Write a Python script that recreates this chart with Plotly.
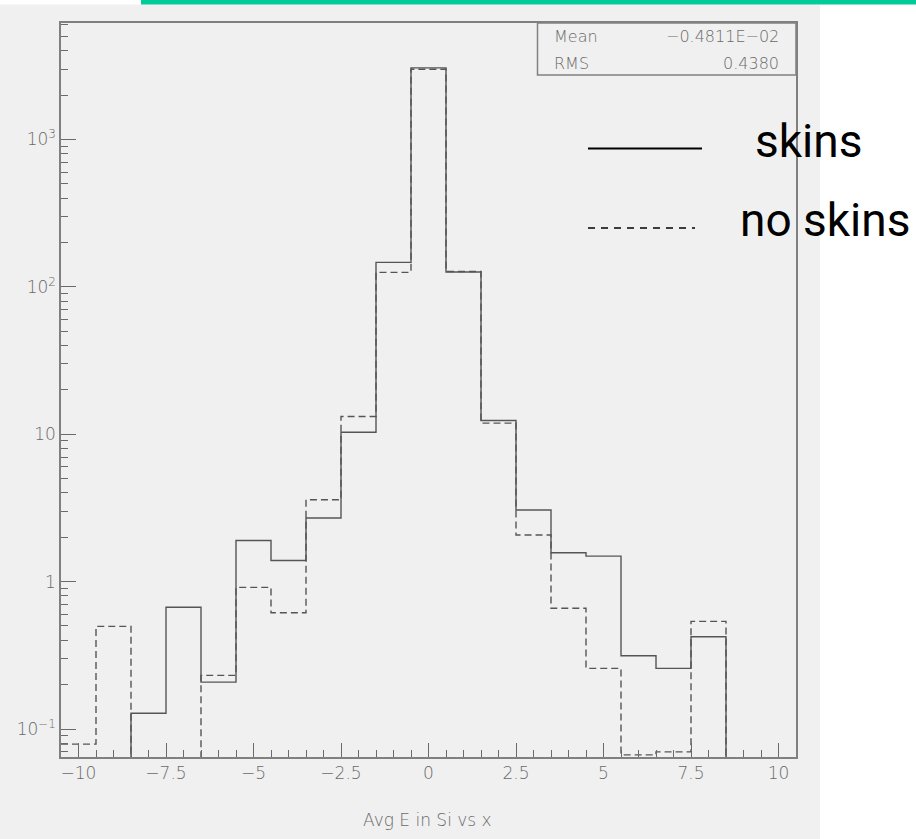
import numpy as np
import plotly.graph_objects as go

# Histogram contents, one bin per integer x (bin width 1)
bin_centers = list(range(-10, 11))
skins = [0, 0, 0.128, 0.67, 0.208, 1.90, 1.39, 2.70, 10.3, 146.6, 3060,
         126, 12.4, 3.06, 1.57, 1.49, 0.314, 0.258, 0.423, 0, 0]
no_skins = [0.079, 0.497, 0, 0, 0.231, 0.914, 0.615, 3.59, 13.2, 125.4, 2995,
            127, 11.9, 2.07, 0.659, 0.258, 0.0667, 0.070, 0.537, 0, 0]

x_tick_vals = [-10, -7.5, -5, -2.5, 0, 2.5, 5, 7.5, 10]
x_tick_text = ["\u221210", "\u22127.5", "\u22125", "\u22122.5", "0", "2.5", "5", "7.5", "10"]
y_tick_vals = [0.1, 1, 10, 100, 1000]
y_tick_text = ["10<sup>\u22121</sup>", "1", "10", "10<sup>2</sup>", "10<sup>3</sup>"]

stat_names = ["Mean", "RMS"]
stat_values = ["\u22120.4811E\u221202", "0.4380"]
legend_labels = ["skins", "no skins"]
x_title = "Avg E in Si vs x"

X_RANGE = [-10.5, 10.5]
Y_RANGE_LOG = [-1.19, 3.79]
LOG_FLOOR = 10 ** (Y_RANGE_LOG[0] - 1)  # empty bins drop below the frame

# frame position in pixels
W, H = 916, 839
PL, PR, PT, PB = 61, 796, 23, 757


def fx(px):
    return (px - PL) / (PR - PL)


def fy(py):
    return (PB - py) / (PB - PT)


def step_outline(values):
    xs = [c - 0.5 for c in bin_centers] + [bin_centers[-1] + 0.5]
    ys = [v if v > 0 else LOG_FLOOR for v in values]
    ys = ys + [ys[-1]]
    return xs, ys


LINE_COL = "#555555"
AXIS_COL = "#808080"
TEXT_COL = "#6a6a6a"
BG = "#f0f0f0"
THIN = "DejaVu Sans"

fig = go.Figure()
for vals, dash in [(skins, "solid"), (no_skins, "7px,4px")]:
    xs, ys = step_outline(vals)
    fig.add_trace(go.Scatter(
        x=xs, y=ys, mode="lines", line_shape="hv",
        line=dict(color=LINE_COL, width=1.4, dash=dash),
        hoverinfo="skip", showlegend=False,
    ))

y_minor = [m * 10 ** d for d in range(-2, 4) for m in range(2, 10)]
y_minor = [v for v in y_minor if Y_RANGE_LOG[0] <= np.log10(v) <= Y_RANGE_LOG[1]]
x_minor = [v for v in np.arange(-10.5, 10.51, 0.5) if v not in x_tick_vals]

tick_font = dict(family=THIN, size=17, color=TEXT_COL, weight=200)

fig.update_xaxes(
    range=X_RANGE, tickmode="array", tickvals=x_tick_vals, ticktext=x_tick_text,
    ticks="inside", ticklen=14, tickwidth=1, tickcolor=TEXT_COL,
    minor=dict(tickmode="array", tickvals=x_minor, ticks="inside", ticklen=7,
               tickwidth=1, tickcolor=TEXT_COL, showgrid=False),
    showline=True, linecolor=AXIS_COL, linewidth=1.5, mirror=True,
    showgrid=False, zeroline=False, tickfont=tick_font,
)
fig.update_yaxes(
    type="log", range=Y_RANGE_LOG, tickmode="array", tickvals=y_tick_vals,
    ticktext=y_tick_text,
    ticks="inside", ticklen=15, tickwidth=1, tickcolor=TEXT_COL,
    minor=dict(tickmode="array", tickvals=y_minor, ticks="inside", ticklen=7,
               tickwidth=1, tickcolor=TEXT_COL, showgrid=False),
    showline=True, linecolor=AXIS_COL, linewidth=1.5, mirror=True,
    showgrid=False, zeroline=False, tickfont=tick_font,
)

shapes = [
    # grey canvas and top accent bar
    dict(type="rect", xref="paper", yref="paper", x0=fx(0), x1=fx(820),
         y0=fy(H), y1=fy(4.5), fillcolor=BG, line=dict(width=0), layer="below"),
    dict(type="rect", xref="paper", yref="paper", x0=fx(141), x1=fx(W),
         y0=fy(4.5), y1=fy(0), fillcolor="#00cc99", line=dict(width=0), layer="below"),
    # statistics box
    dict(type="rect", xref="paper", yref="paper", x0=fx(537.5), x1=fx(796),
         y0=fy(75), y1=fy(23), line=dict(color=AXIS_COL, width=1.5)),
    # legend samples
    dict(type="line", xref="paper", yref="paper", x0=fx(588), x1=fx(702),
         y0=fy(148.5), y1=fy(148.5), line=dict(color="black", width=2)),
    dict(type="line", xref="paper", yref="paper", x0=fx(588), x1=fx(695),
         y0=fy(228), y1=fy(228), line=dict(color="black", width=1.5, dash="7px,6px")),
]

annotations = []
stat_font = dict(family=THIN, size=16, color=TEXT_COL, weight=200)
for i, (name, val) in enumerate(zip(stat_names, stat_values)):
    yc = 37 + 26 * i
    annotations.append(dict(x=fx(552), y=fy(yc), xref="paper", yref="paper",
                            text=name, showarrow=False, xanchor="left",
                            yanchor="middle", font=stat_font))
    annotations.append(dict(x=fx(781), y=fy(yc), xref="paper", yref="paper",
                            text=val, showarrow=False, xanchor="right",
                            yanchor="middle", font=stat_font))

leg_font = dict(family="Roboto", size=46, color="black")
for label, lx, ly in zip(legend_labels, [753, 738], [140.5, 220.5]):
    annotations.append(dict(x=fx(lx), y=fy(ly), xref="paper", yref="paper",
                            text=label, showarrow=False, xanchor="left",
                            yanchor="middle", font=leg_font))

annotations.append(dict(x=fx(427), y=fy(820), xref="paper", yref="paper",
                        text=x_title, showarrow=False, xanchor="center",
                        yanchor="middle",
                        font=dict(family=THIN, size=17, color=TEXT_COL, weight=200)))

fig.update_layout(
    width=W, height=H,
    margin=dict(l=PL, r=W - PR, t=PT, b=H - PB, pad=0),
    paper_bgcolor="white", plot_bgcolor=BG,
    shapes=shapes, annotations=annotations, showlegend=False,
)

fig.write_html("out.html")
